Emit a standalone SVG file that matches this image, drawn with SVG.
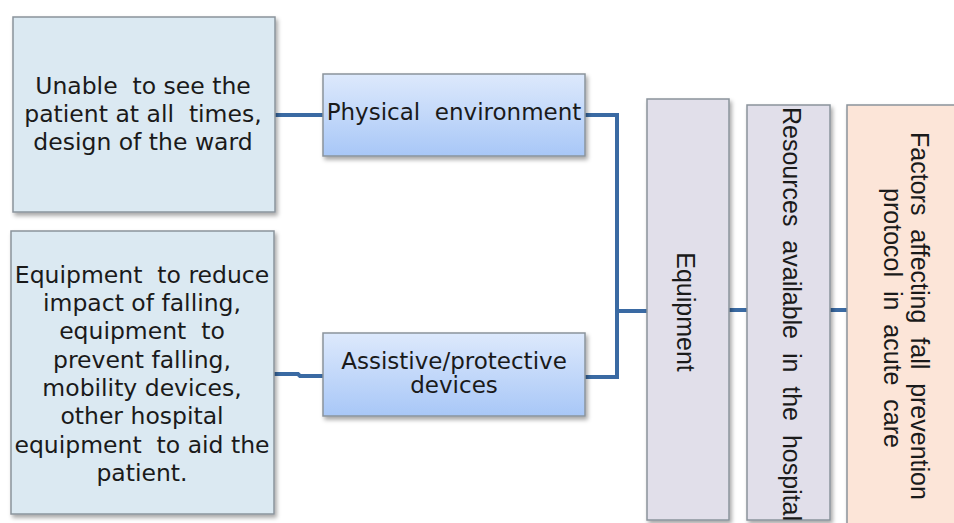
<svg xmlns="http://www.w3.org/2000/svg" width="954" height="523" viewBox="0 0 954 523">
<defs>
<linearGradient id="blueGrad" x1="0" y1="0" x2="0" y2="1">
<stop offset="0" stop-color="#dde9fc"/>
<stop offset="1" stop-color="#a8c7f7"/>
</linearGradient>
<filter id="shadow" x="-10%" y="-10%" width="130%" height="130%">
<feDropShadow dx="2" dy="3" stdDeviation="2" flood-color="#000" flood-opacity="0.35"/>
</filter>
</defs>
<style>
.box{stroke:#8a949c;stroke-width:1.5;filter:url(#shadow)}
.leaf{fill:#dbe9f2}
.mid{fill:url(#blueGrad)}
.cat{fill:#e1dfea}
.root{fill:#fce5d8}
.t{font-family:"DejaVu Sans",sans-serif;font-size:23.5px;fill:#1a1a1a;text-anchor:middle;dominant-baseline:central;white-space:pre}
.m{font-size:23px}
.v{font-family:"Liberation Sans",Arial,sans-serif;font-size:25px;fill:#1a1a1a;text-anchor:middle;dominant-baseline:central;white-space:pre}
.conn{fill:none;stroke:#3a6aa3;stroke-width:4}
</style>
<g id="connectors">
<path class="conn" d="M275,115 H323"/>
<path class="conn" d="M274,374 H298 L300,376 H323"/>
<path class="conn" d="M585,115 H617 V377 H585"/>
<path class="conn" d="M617,311 H647"/>
<path class="conn" d="M729,310 H747"/>
<path class="conn" d="M830,310 H847"/>
</g>
<g id="node-ward">
<rect class="box leaf" x="13" y="17" width="262" height="195"/>
<text class="t" x="143" y="86" xml:space="preserve">Unable  to see the</text>
<text class="t" x="143" y="114" xml:space="preserve">patient at all  times,</text>
<text class="t" x="143" y="142" xml:space="preserve">design of the ward</text>
</g>
<g id="node-equipment-list">
<rect class="box leaf" x="11" y="231" width="263" height="283"/>
<text class="t" x="142" y="275" xml:space="preserve">Equipment  to reduce</text>
<text class="t" x="142" y="303" xml:space="preserve">impact of falling,</text>
<text class="t" x="142" y="331" xml:space="preserve">equipment  to</text>
<text class="t" x="142" y="360" xml:space="preserve">prevent falling,</text>
<text class="t" x="142" y="388" xml:space="preserve">mobility devices,</text>
<text class="t" x="142" y="416" xml:space="preserve">other hospital</text>
<text class="t" x="142" y="445" xml:space="preserve">equipment  to aid the</text>
<text class="t" x="142" y="473" xml:space="preserve">patient.</text>
</g>
<g id="node-physical">
<rect class="box mid" x="323" y="74" width="262" height="82"/>
<text class="t m" x="454" y="112" xml:space="preserve">Physical  environment</text>
</g>
<g id="node-assistive">
<rect class="box mid" x="323" y="333" width="262" height="83"/>
<text class="t m" x="454" y="361" xml:space="preserve">Assistive/protective</text>
<text class="t m" x="454" y="385" xml:space="preserve">devices</text>
</g>
<g id="node-equipment">
<rect class="box cat" x="647" y="99" width="82" height="421"/>
<text class="v" transform="rotate(90 686 312)" x="686" y="312">Equipment</text>
</g>
<g id="node-resources">
<rect class="box cat" x="747" y="105" width="83" height="415"/>
<text class="v" transform="rotate(90 792 314)" x="792" y="314" xml:space="preserve">Resources  available  in  the  hospital</text>
</g>
<g id="node-factors">
<rect class="box root" x="847" y="105" width="120" height="425"/>
<text class="v" transform="rotate(90 920 316)" x="920" y="316" xml:space="preserve">Factors  affecting  fall  prevention</text>
<text class="v" transform="rotate(90 893 318)" x="893" y="318" xml:space="preserve">protocol  in  acute  care</text>
</g>
</svg>
